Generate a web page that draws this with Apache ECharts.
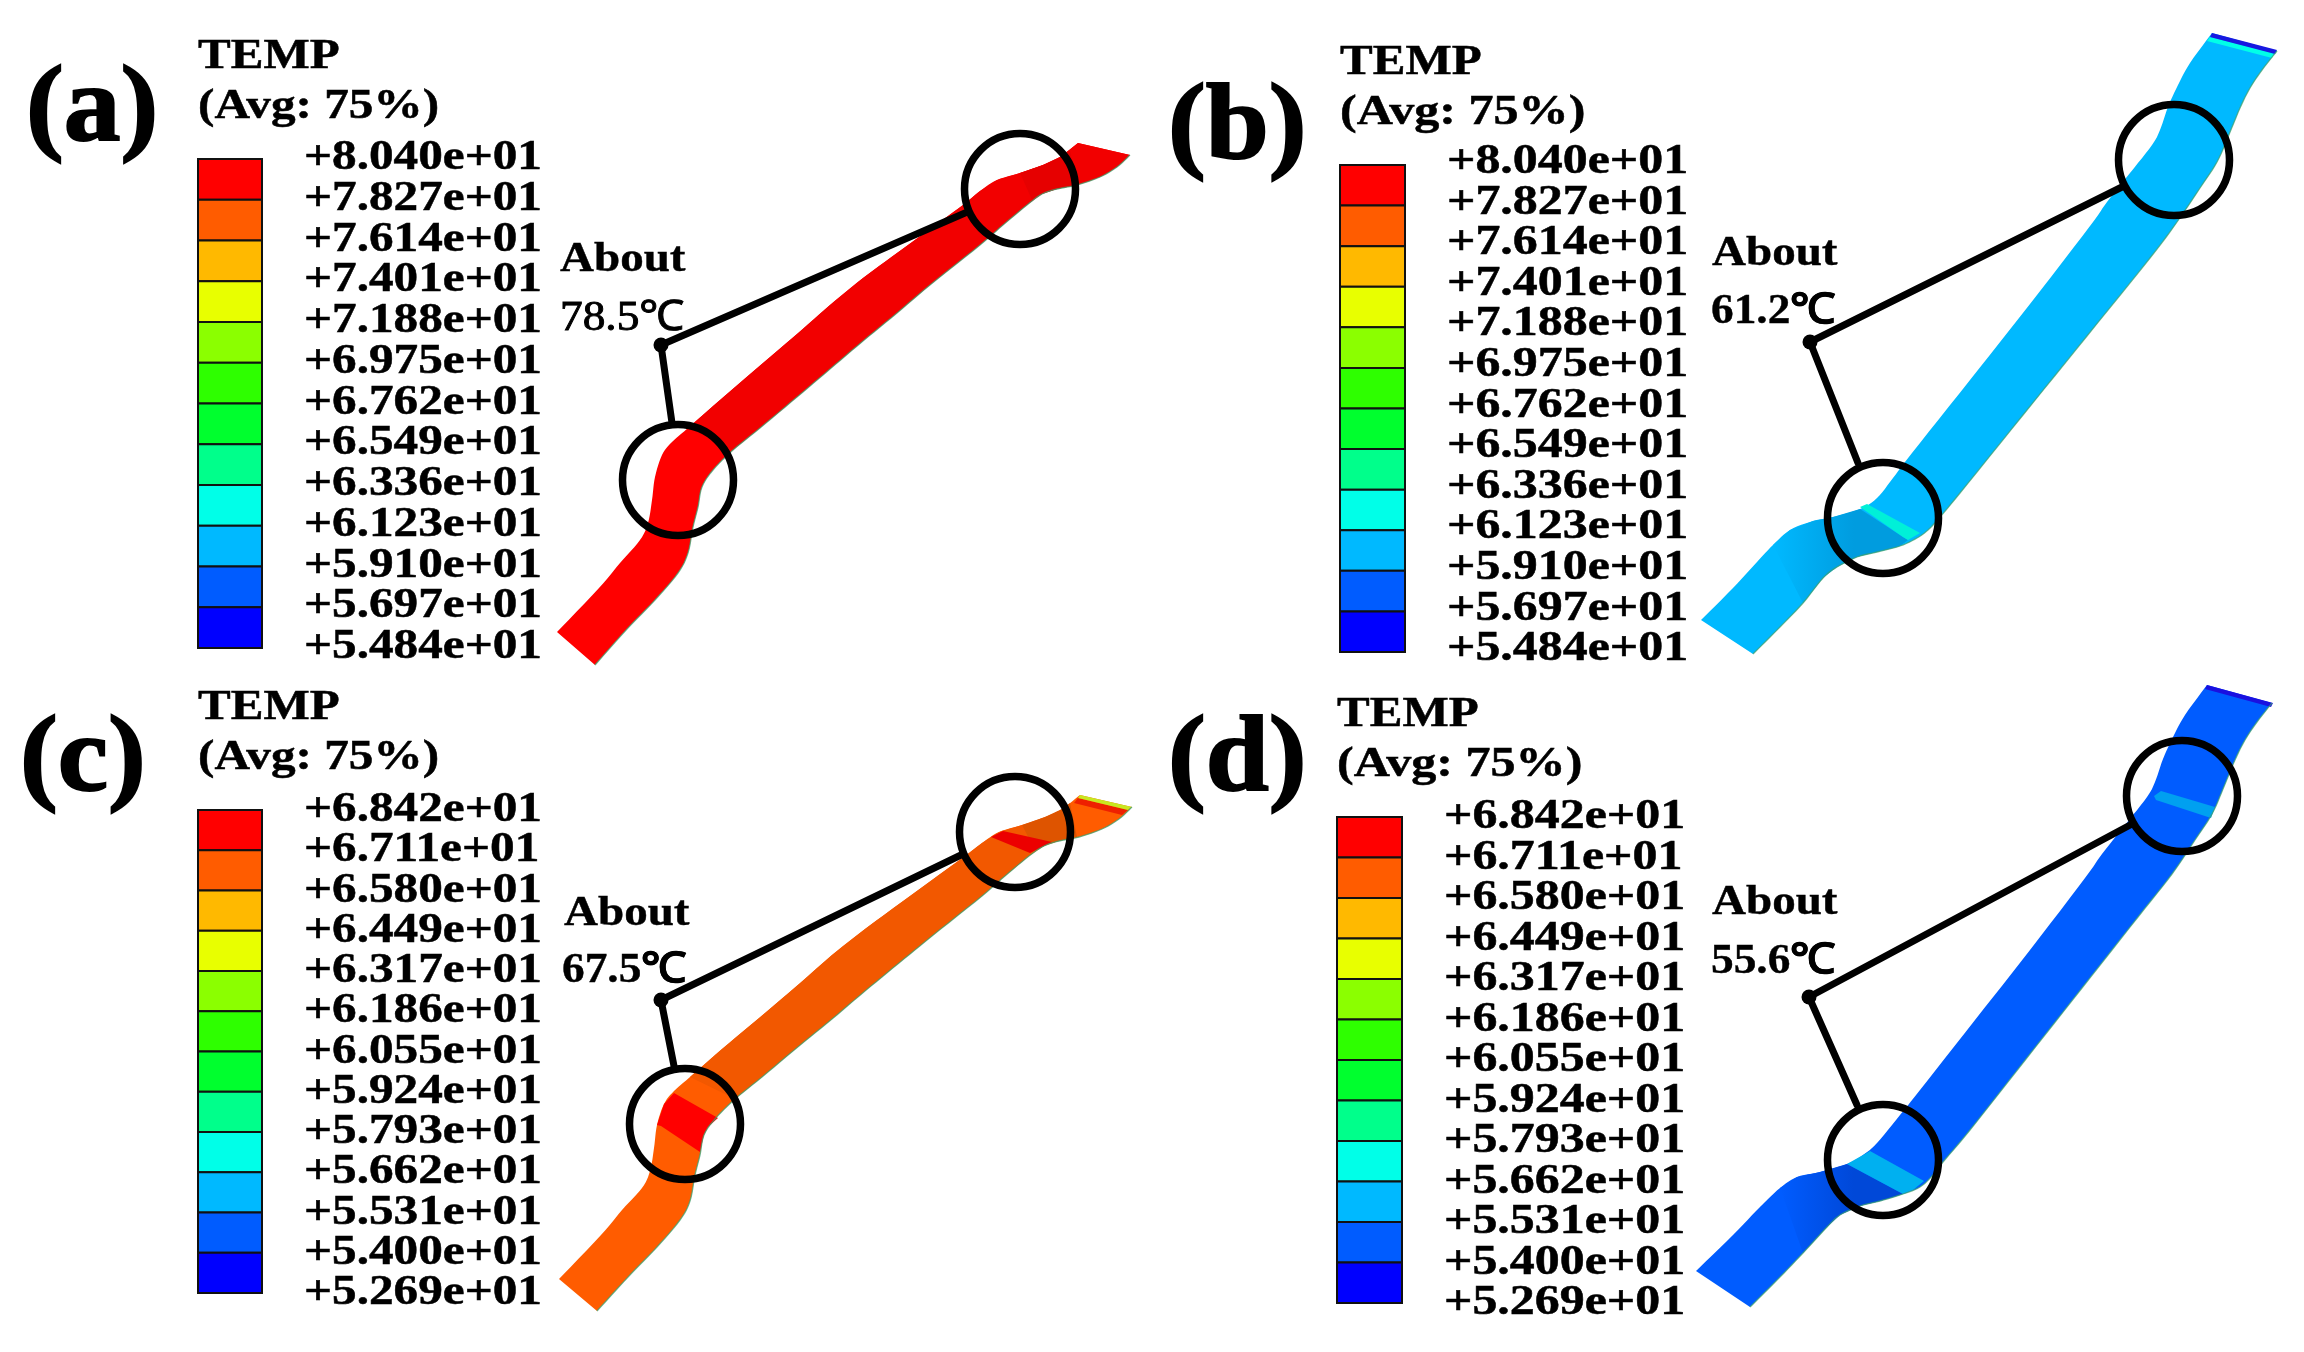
<!DOCTYPE html>
<html><head><meta charset="utf-8">
<script src="https://cdn.jsdelivr.net/npm/echarts@6/dist/echarts.min.js"></script>
<style>html,body{margin:0;padding:0;background:#fff}#c{width:2304px;height:1352px}</style></head>
<body><div id="c"></div>
<script>
// Colour-bar contents
const levelColors=['#ff0000','#ff5c00','#ffb900','#e8ff00','#8bff00','#2eff00','#00ff2e','#00ff8b','#00ffe8','#00b9ff','#005cff','#0000ff'];
const ticksHot=['+8.040e+01','+7.827e+01','+7.614e+01','+7.401e+01','+7.188e+01','+6.975e+01','+6.762e+01','+6.549e+01','+6.336e+01','+6.123e+01','+5.910e+01','+5.697e+01','+5.484e+01'];
const ticksCool=['+6.842e+01','+6.711e+01','+6.580e+01','+6.449e+01','+6.317e+01','+6.186e+01','+6.055e+01','+5.924e+01','+5.793e+01','+5.662e+01','+5.531e+01','+5.400e+01','+5.269e+01'];
// Strip edges
const upperA=[[557,632],[599,588],[620,563],[640,540],[648,523],[652,500],[655,477],[662,455],[672,442],[688,428],[720,400],[763,363],[797,334],[830,305],[863,278],[897,253],[930,229],[963,205],[980,191],[997,180],[1020,173],[1043,165],[1060,157],[1078,143]];
const lowerA=[[1130,155],[1117,167],[1100,177],[1077,185],[1057,189],[1042,194],[1027,205],[1003,225],[980,245],[930,285],[897,313],[863,341],[830,369],[797,397],[760,428],[733,450],[713,470],[702,487],[698,507],[693,527],[688,553],[678,573],[655,600],[627,629],[595,665]];
const upperB=[[1701,620],[1733,588],[1757,562],[1773,545],[1790,530],[1813,521],[1833,517],[1860,509],[1877,498],[1893,478],[1912,453],[1970,380],[2030,304],[2090,226],[2107,202],[2130,173],[2152,145],[2160,130],[2168,107],[2178,85],[2190,63],[2212,33]];
const lowerB=[[2277,51],[2262,70],[2250,88],[2240,108],[2228,137],[2217,162],[2200,188],[2177,222],[2150,258],[2087,336],[2023,415],[1960,493],[1940,517],[1928,530],[1917,538],[1900,546],[1877,552],[1857,557],[1837,567],[1823,578],[1803,603],[1780,627],[1753,654]];
const upperC=[[559,1279],[601,1235],[622,1210],[642,1188],[650,1171],[654,1148],[657,1125],[664,1104],[674,1091],[690,1077],[722,1049],[765,1013],[799,984],[832,955],[865,929],[899,904],[932,880],[965,856],[982,843],[999,832],[1022,825],[1045,817],[1062,809],[1080,795]];
const lowerC=[[1132,807],[1119,819],[1102,829],[1079,837],[1059,841],[1044,846],[1029,856],[1005,876],[982,896],[932,936],[899,963],[865,991],[832,1019],[799,1046],[762,1077],[735,1099],[715,1119],[704,1135],[700,1155],[695,1175],[690,1201],[680,1220],[657,1247],[629,1276],[597,1311]];
const upperD=[[1696,1271],[1733,1235],[1760,1207],[1780,1188],[1797,1177],[1820,1172],[1847,1164],[1863,1155],[1877,1143],[1900,1115],[1920,1090],[1975,1020],[2030,950],[2085,878],[2102,854],[2125,825],[2147,797],[2155,782],[2163,759],[2173,737],[2185,715],[2207,685]];
const lowerD=[[2272,703],[2257,722],[2245,740],[2235,760],[2223,789],[2212,814],[2195,840],[2172,874],[2138,917],[2082,988],[2026,1059],[1970,1130],[1943,1162],[1933,1175],[1920,1187],[1903,1194],[1880,1201],[1860,1206],[1840,1215],[1827,1227],[1803,1253],[1780,1277],[1750,1307]];
// Contour patches inside each strip
const patchesA=[
 {c:'#f20000',p:[[688,428],[720,400],[763,363],[797,334],[830,305],[863,278],[897,253],[930,229],[963,205],[980,191],[997,180],[1020,173],[1043,165],[1060,157],[1078,143],[1130,155],[1117,167],[1100,177],[1077,185],[1057,189],[1042,194],[1027,205],[1003,225],[980,245],[930,285],[897,313],[863,341],[830,369],[797,397],[760,428],[733,450]]},
 {c:'#e60000',p:[[1020,173],[1043,165],[1060,157],[1070,150],[1077,185],[1057,189],[1042,194],[1032,200]]}];
const patchesB=[
 {g:['#00b9ff','#009cdf'],p:[[1773,545],[1790,530],[1813,521],[1833,517],[1860,509],[1903,537],[1908,540],[1900,546],[1877,552],[1857,557],[1837,567],[1823,578],[1803,603]]},
 {c:'#00f0d8',p:[[1860,507],[1867,504],[1920,533],[1908,540],[1903,537]]},
 {c:'#00ffe8',p:[[2210,37],[2274,53],[2272,58],[2207,41]]},
 {c:'#1818e0',p:[[2212,33],[2277,50],[2275,54],[2210,37]]}];
const patchesC=[
 {c:'#f25800',p:[[690,1077],[722,1049],[765,1013],[799,984],[832,955],[865,929],[899,904],[932,880],[965,856],[982,843],[999,832],[1022,825],[1044,846],[1029,856],[1005,876],[982,896],[932,936],[899,963],[865,991],[832,1019],[799,1046],[762,1077],[735,1099]]},
 {c:'#de5400',p:[[1022,825],[1045,817],[1062,809],[1070,803],[1077,837],[1059,841],[1044,846],[1035,850]]},
 {c:'#ff0000',p:[[674,1093],[718,1118],[708,1127],[704,1135],[700,1152],[661,1126],[657,1125],[664,1104]]},
 {c:'#ec0000',p:[[991,837],[1003,831],[1052,842],[1042,847],[1030,853]]},
 {c:'#ee2000',p:[[1078,798],[1128,810],[1122,815],[1074,803]]},
 {c:'#c8e820',p:[[1080,795],[1132,807],[1128,810],[1078,798]]}];
const patchesD=[
 {g:['#005cff','#0048d8'],p:[[1780,1188],[1797,1177],[1820,1172],[1847,1164],[1903,1194],[1880,1201],[1860,1206],[1840,1215],[1827,1227],[1803,1253]]},
 {c:'#00b0f0',p:[[1847,1164],[1863,1155],[1870,1151],[1924,1181],[1913,1190],[1903,1194]]},
 {c:'#00a0f0',p:[[2154,796],[2161,791],[2215,807],[2211,818],[2156,800]]},
 {c:'#1a10e0',p:[[2207,685],[2273,703],[2271,707],[2205,689]]}];
// Leader lines, rings and annotations
const leaderA=[[965,213],[661,345],[672,423]], ringsA=[[1020,189],[678,480]];
const leaderB=[[2122,187],[1810,342],[1858,463]], ringsB=[[2174,160],[1883,518]];
const leaderC=[[961,855],[661,1000],[674,1066]], ringsC=[[1015,832],[685,1124]];
const leaderD=[[2132,824],[1809,997],[1857,1105]], ringsD=[[2182,796],[1883,1160]];
const noteLabels=['78.5℃','61.2℃','67.5℃','55.6℃'];
const notePosA=[[560,260],[560,319]], notePosB=[[1712,254],[1711,312]], notePosC=[[564,914],[562,971]], notePosD=[[1712,903],[1711,962]];
const panelNames=['(a)','(b)','(c)','(d)'];
const titleLines=['TEMP','(Avg: 75%)'];

const SERIF="'Liberation Serif','Times New Roman',serif";
const bars=[{l:198,t:159,w:64,h:489},{l:1340,t:165,w:65,h:487},{l:198,t:810,w:64,h:483},{l:1337,t:817,w:65,h:486}];
const letterPos=[[26,112],[1168,130],[20,762],[1168,762]];
const uppers=[upperA,upperB,upperC,upperD], lowers=[lowerA,lowerB,lowerC,lowerD], patches=[patchesA,patchesB,patchesC,patchesD];
const leaders=[leaderA,leaderB,leaderC,leaderD], rings=[ringsA,ringsB,ringsC,ringsD], notes=[notePosA,notePosB,notePosC,notePosD];
const baseFill=['#ff0000','#00b9ff','#ff5c00','#005cff'];
const noteWeight=['normal','bold','bold','bold'];
const noteHalo=[0.9,0.4,0.4,0.4];
const ticks=[ticksHot,ticksHot,ticksCool,ticksCool];
const labelShift=[-1,-3,0,0];
const labelScale=[1.145,1.16,1.145,1.16];
const avgScale=[1.145,1.165,1.145,1.165];

const grid=[{left:0,top:0,width:2304,height:1352}],xAxis=[{type:'value',min:0,max:2304,show:false,gridIndex:0}],yAxis=[{type:'value',min:0,max:1352,inverse:true,show:false,gridIndex:0}];
bars.forEach((b,i)=>{grid.push({left:b.l,top:b.t,width:b.w,height:b.h});
 xAxis.push({type:'value',min:0,max:1,show:false,gridIndex:i+1});
 yAxis.push({type:'category',data:ticks[i],inverse:true,boundaryGap:false,position:'right',gridIndex:i+1,
  axisLine:{show:false},axisLabel:{show:false},splitLine:{show:false},
  axisTick:{show:true,inside:false,length:23,lineStyle:{color:'#111',width:2}}});});

// canvas-level curve smoothing through the read edge points
function curve(pts){const out=[];for(let i=0;i<pts.length-1;i++){const a=pts[Math.max(i-1,0)],b=pts[i],c=pts[i+1],d=pts[Math.min(i+2,pts.length-1)];
  for(let k=0;k<6;k++){const t=k/6,t2=t*t,t3=t2*t;
   out.push([0,1].map(j=>0.5*(2*b[j]+(c[j]-a[j])*t+(2*a[j]-5*b[j]+4*c[j]-d[j])*t2+(3*b[j]-a[j]-3*c[j]+d[j])*t3)));}}
  out.push(pts[pts.length-1]);return out;}

const series=[];
const textEl=(x,y,text,size,sx,weight,halo)=>({type:'text',x,y,scaleX:sx,z2:5,style:{text,x:0,y:0,fontFamily:SERIF,fontSize:size,fontWeight:weight||'bold',fill:'#000',stroke:halo?'#000':null,lineWidth:halo||0,align:'left',verticalAlign:'middle'}});

uppers.forEach((up,i)=>{
 series.push({type:'custom',name:'strip'+i,xAxisIndex:0,yAxisIndex:0,coordinateSystem:'cartesian2d',clip:false,z:2,silent:true,data:[[0,0]],
  renderItem:(p,api)=>{
   const lo=curve(lowers[i]).map(q=>api.coord(q)), hi=curve(up).map(q=>api.coord(q));
   return {type:'group',children:[
    {type:'polygon',shape:{points:hi.concat(lo)},style:{fill:baseFill[i]}},
    ...patches[i].map(q=>({type:'polygon',shape:{points:q.p.map(v=>api.coord(v))},
      style:{fill:q.g?new echarts.graphic.LinearGradient(0,0,1,0,[{offset:0,color:q.g[0]},{offset:0.6,color:q.g[1]},{offset:1,color:q.g[1]}]):q.c}})),
    {type:'polyline',shape:{points:lo},style:{fill:null,stroke:'rgba(60,160,110,0.75)',lineWidth:1.3}}]};}});
 series.push({type:'line',name:'leader'+i,xAxisIndex:0,yAxisIndex:0,z:3,silent:true,symbol:'none',clip:false,data:leaders[i],lineStyle:{color:'#000',width:7,cap:'round',join:'round',opacity:1}});
 series.push({type:'scatter',name:'joint'+i,xAxisIndex:0,yAxisIndex:0,z:3,silent:true,symbol:'circle',symbolSize:15,clip:false,data:[leaders[i][1]],itemStyle:{color:'#000',opacity:1}});
 series.push({type:'scatter',name:'ring'+i,xAxisIndex:0,yAxisIndex:0,z:4,silent:true,symbol:'circle',symbolSize:111,clip:false,data:rings[i],itemStyle:{color:'rgba(0,0,0,0)',borderColor:'#000',borderWidth:7.5,opacity:1}});
 series.push({type:'custom',name:'note'+i,xAxisIndex:0,yAxisIndex:0,z:5,silent:true,clip:false,data:notes[i],
  renderItem:(p,api)=>{const c=api.coord([api.value(0),api.value(1)]);
   return p.dataIndex===0?textEl(c[0],c[1],'About',42,1.12,'bold',0.4):textEl(c[0],c[1],noteLabels[i],42,1.08,noteWeight[i],noteHalo[i]);}});
});
bars.forEach((b,i)=>{
 const ax=i+1;
 series.push({type:'custom',name:'bar'+i,xAxisIndex:ax,yAxisIndex:ax,z:2,silent:true,clip:false,data:levelColors.map((c,k)=>[0,k]),
  renderItem:(p,api)=>{const k=p.dataIndex,a=api.coord([0,k]),z=api.coord([1,k+1]);
   return {type:'rect',shape:{x:a[0],y:a[1],width:z[0]-a[0],height:z[1]-a[1]},style:{fill:levelColors[k],stroke:'#111',lineWidth:2}};}});
 series.push({type:'custom',name:'labels'+i,xAxisIndex:ax,yAxisIndex:ax,z:5,silent:true,clip:false,data:ticks[i].map((t,k)=>[1,k]),
  renderItem:(p,api)=>{const c=api.coord([1,p.dataIndex]);return textEl(c[0]+42,c[1]+labelShift[i],ticks[i][p.dataIndex],43,labelScale[i],'bold',0.5);}});
 series.push({type:'custom',name:'title'+i,xAxisIndex:ax,yAxisIndex:ax,z:5,silent:true,clip:false,data:titleLines.map(()=>[0,0]),
  renderItem:(p,api)=>{const c=api.coord([0,0]);return textEl(c[0],c[1]+(p.dataIndex===0?-102:-52),titleLines[p.dataIndex],43,p.dataIndex===0?1.14:avgScale[i],'bold',0.5);}});
});
series.push({type:'custom',name:'letters',xAxisIndex:0,yAxisIndex:0,z:5,silent:true,clip:false,data:letterPos,
 renderItem:(p,api)=>{const c=api.coord([api.value(0),api.value(1)]);return textEl(c[0],c[1],panelNames[p.dataIndex],108,1.05,'bold',2);}});

const chart=echarts.init(document.getElementById('c'),null,{renderer:'canvas'});
chart.setOption({animation:false,backgroundColor:'#fff',grid,xAxis,yAxis,series});
</script></body></html>
